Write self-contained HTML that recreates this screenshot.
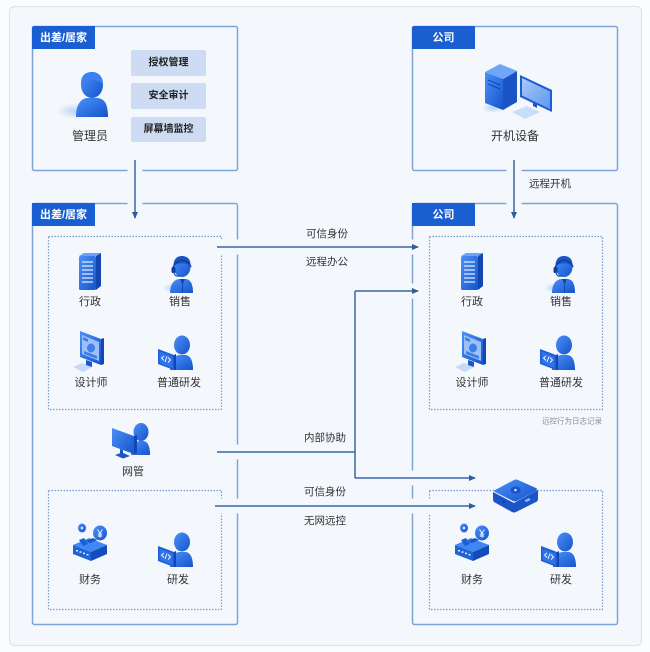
<!DOCTYPE html>
<html><head><meta charset="utf-8">
<style>
html,body{margin:0;padding:0;background:#fbfcfe;}
svg{display:block;}
text{font-family:"Liberation Sans","Noto Sans CJK SC",sans-serif;}
.lb{font-size:11px;fill:#333;text-anchor:middle;dominant-baseline:central;}
.ln{font-size:10.5px;fill:#333;text-anchor:middle;dominant-baseline:central;}
.bt{font-size:10px;font-weight:bold;fill:#222;text-anchor:middle;dominant-baseline:central;}
.tb{font-size:11px;font-weight:bold;fill:#fff;text-anchor:middle;dominant-baseline:central;}
</style></head><body>
<svg width="650" height="652" viewBox="0 0 650 652" xmlns="http://www.w3.org/2000/svg">
<defs>
<linearGradient id="gB" x1="0" y1="0" x2="1" y2="1">
<stop offset="0" stop-color="#4b91f8"/><stop offset="1" stop-color="#1553cc"/></linearGradient>
<linearGradient id="gS" x1="0" y1="0" x2="1" y2="1">
<stop offset="0" stop-color="#a9c9f9"/><stop offset="1" stop-color="#5f97ee"/></linearGradient>
<radialGradient id="gGlow" cx="0.5" cy="0.5" r="0.5">
<stop offset="0" stop-color="#b9d2f8"/><stop offset="1" stop-color="#b9d2f8" stop-opacity="0"/></radialGradient>
<marker id="ar" viewBox="0 0 8 8" refX="7" refY="4" markerWidth="7" markerHeight="7" markerUnits="userSpaceOnUse" orient="auto">
<path d="M0,0.5 L8,4 L0,7.5 Z" fill="#2f5c9c"/></marker>

<g id="doc">
<polygon points="17,3 22,0 22,33 17,37" fill="#1446b3"/>
<rect x="0" y="3" width="17" height="34" rx="1.5" fill="url(#gB)"/>
<polygon points="0,3 5,0 22,0 17,3" fill="#6aa3f7"/>
<g stroke="#dbe8fd" stroke-width="1.3">
<line x1="3" x2="14" y1="9" y2="9"/><line x1="3" x2="14" y1="13" y2="13"/>
<line x1="3" x2="14" y1="17" y2="17"/><line x1="3" x2="14" y1="21" y2="21"/>
<line x1="3" x2="14" y1="25" y2="25"/><line x1="3" x2="14" y1="29" y2="29"/></g>
</g>

<g id="sales">
<ellipse cx="6" cy="33" rx="11" ry="5" fill="url(#gGlow)"/>
<path d="M3,38 C3,28 8,24 13,24 L18,24 C23,24 26,28 26,38 Z" fill="url(#gB)"/>
<path d="M13,24 L15.5,30 L18,24 Z" fill="#1247b0"/>
<line x1="15.5" y1="30" x2="15.5" y2="38" stroke="#1247b0" stroke-width="1"/>
<ellipse cx="15" cy="12" rx="8.5" ry="10" fill="url(#gB)"/>
<path d="M6.5,11 C6.5,3 11,1 15,1 C20,1 24,4 23.5,11 C20,8 12,7 6.5,11 Z" fill="#1a55c6"/>
<path d="M6,13 A9.5,10.5 0 0 1 24,12" stroke="#0f3ea0" stroke-width="1.4" fill="none"/>
<rect x="4.5" y="12" width="4" height="6" rx="1.5" fill="#0f3ea0"/>
<path d="M7,18 Q8,22 13,21" stroke="#0f3ea0" stroke-width="1" fill="none"/>
</g>

<g id="designer">
<polygon points="0,36 9,32 19,36 10,41" fill="#c6daf8"/>
<polygon points="13,29 19,31 19,36 13,34" fill="#1a56c9"/>
<polygon points="28,8 31,7 31,33 28,34" fill="#1446b3"/>
<polygon points="7,0 28,8 28,34 7,26" fill="url(#gB)"/>
<polygon points="9,4 26,11 26,30 9,23" fill="#9cc0f7"/>
<ellipse cx="18" cy="17" rx="4" ry="4.5" fill="#3f7fea"/>
<polygon points="11,20 24,25 24,28 11,23" fill="#3f7fea"/>
<polygon points="10,6 15,8 15,11 10,9" fill="#3f7fea"/>
</g>

<g id="dev">
<ellipse cx="24" cy="10" rx="8" ry="9.5" fill="url(#gB)"/>
<path d="M12,35 C12,24 17,20 22,20 L27,20 C32,20 35,25 35,35 Z" fill="url(#gB)"/>
<polygon points="16,20 18,19 18,35 16,35" fill="#1446b3"/>
<polygon points="0,14 16,20 16,35 0,29" fill="#1d5ed8"/>
<polygon points="1.5,16.5 14.5,21.5 14.5,33 1.5,28" fill="#2e73e8"/>
<path d="M6,21 L3.5,23 L6,25.5 M10,22.5 L12.5,25 L10,27.5 M9,21.5 L7,27" stroke="#fff" stroke-width="0.9" fill="none"/>
</g>

<g id="finance">
<ellipse cx="9" cy="5" rx="4" ry="4.5" fill="url(#gB)"/>
<circle cx="9" cy="5" r="1.3" fill="#dbe8fd"/>
<ellipse cx="27" cy="10" rx="7" ry="7.5" fill="url(#gB)"/>
<path d="M24.5,6.5 L27,10 L29.5,6.5 M27,10 V14.5 M24.8,11 H29.2 M24.8,13 H29.2" stroke="#fff" stroke-width="0.9" fill="none"/>
<polygon points="0,22 16,15 34,22 18,29" fill="#3f88f4"/>
<polygon points="0,22 18,29 18,38 0,31" fill="#1f63d8"/>
<polygon points="18,29 34,22 34,31 18,38" fill="#144dbb"/>
<polygon points="13,18 20,15 24,17 17,20" fill="#1a55c6"/>
<polygon points="6,17 11,15 15,21 10,23" fill="#1d5ed8"/>
<g fill="#e1ecfd"><rect x="3" y="27" width="2" height="1.5"/><rect x="6.5" y="28.3" width="2" height="1.5"/><rect x="10" y="29.6" width="2" height="1.5"/><rect x="13.5" y="30.9" width="2" height="1.5"/></g>
</g>
</defs>

<!-- outer container -->
<rect x="9.5" y="6.5" width="632" height="639" rx="5" fill="#f4f8fd" stroke="#dde4ec" stroke-width="1.2"/>

<!-- boxes -->
<g fill="none" stroke="#7fa3d5" stroke-width="1.5">
<rect x="32.5" y="26.5" width="205" height="144" rx="2"/>
<rect x="32.5" y="203.5" width="205" height="421" rx="2"/>
<rect x="412.5" y="26.5" width="205" height="144" rx="2"/>
<rect x="412.5" y="203.5" width="205" height="421" rx="2"/>
</g>
<g fill="#1a5fd2">
<path d="M32,28 Q32,26 34,26 L95,26 L95,49 L32,49 Z"/>
<path d="M32,203 L95,203 L95,226 L32,226 Z"/>
<path d="M412,28 Q412,26 414,26 L475,26 L475,49 L412,49 Z"/>
<path d="M412,203 L475,203 L475,226 L412,226 Z"/>
</g>
<text class="tb" x="63.5" y="38">出差/居家</text>
<text class="tb" x="63.5" y="215">出差/居家</text>
<text class="tb" x="443.5" y="38">公司</text>
<text class="tb" x="443.5" y="215">公司</text>

<!-- buttons -->
<g fill="#cddcf3">
<rect x="131" y="50" width="75" height="26" rx="2"/>
<rect x="131" y="83" width="75" height="26" rx="2"/>
<rect x="131" y="117" width="75" height="25" rx="2"/>
</g>
<text class="bt" x="168.5" y="63">授权管理</text>
<text class="bt" x="168.5" y="96">安全审计</text>
<text class="bt" x="168.5" y="129.5">屏幕墙监控</text>

<!-- dotted boxes -->
<g fill="none" stroke="#7b9bcb" stroke-width="1.2" stroke-dasharray="1.5 1.5">
<rect x="48.5" y="236.5" width="173" height="173"/>
<rect x="48.5" y="490.5" width="173" height="119"/>
<rect x="429.5" y="236.5" width="173" height="173"/>
<rect x="429.5" y="490.5" width="173" height="119"/>
</g>

<!-- halos -->
<g stroke="#f4f8fd" stroke-width="15" fill="none">
<path d="M135,160 V214"/>
<path d="M514,160 V214"/>
<path d="M217,247 H414"/>
<path d="M217,452 H355"/>
<path d="M355,291 H414"/>
<path d="M355,478 H470"/>
<path d="M215,506 H470"/>
</g>

<!-- connectors -->
<g stroke="#3a66a4" stroke-width="1.5" fill="none">
<path d="M135,160 V218" marker-end="url(#ar)"/>
<path d="M514,160 V218" marker-end="url(#ar)"/>
<path d="M217,247 H418" marker-end="url(#ar)"/>
<path d="M217,452 H355"/>
<path d="M355,291 V478"/>
<path d="M355,291 H418" marker-end="url(#ar)"/>
<path d="M355,478 H475" marker-end="url(#ar)"/>
<path d="M215,506 H475" marker-end="url(#ar)"/>
</g>

<text class="ln" x="550" y="184">远程开机</text>
<text class="ln" x="327" y="234">可信身份</text>
<text class="ln" x="327" y="262">远程办公</text>
<text class="ln" x="325" y="438">内部协助</text>
<text class="ln" x="325" y="492">可信身份</text>
<text class="ln" x="325" y="521">无网远控</text>
<text x="602" y="421" style="font-size:7.5px;fill:#8a8f96;text-anchor:end;dominant-baseline:central;">远控行为日志记录</text>

<!-- admin person -->
<ellipse cx="76" cy="111" rx="20" ry="8" fill="url(#gGlow)"/>
<path d="M76,117 C76,103 82,98 88,98 L98,98 C105,99 108,105 108,117 Z" fill="url(#gB)"/>
<ellipse cx="92" cy="85" rx="11" ry="13" fill="url(#gB)"/>
<path d="M81,84 C81,74 87,72 92,72 C98,72 103,76 103,84 C98,79 87,79 81,84 Z" fill="#3a82f2"/>
<text class="lb" x="90" y="136" style="font-size:12px">管理员</text>

<!-- computer -->
<ellipse cx="493" cy="108" rx="12" ry="5" fill="url(#gGlow)"/>
<polygon points="485,72 503,79 503,110 485,103" fill="url(#gB)"/>
<polygon points="503,79 517,71 517,102 503,110" fill="#1a54c4"/>
<polygon points="485,72 500,64 517,71 503,79" fill="#6ea6f8"/>
<g stroke="#1446b3" stroke-width="1"><line x1="488" y1="80" x2="500" y2="85"/><line x1="488" y1="84" x2="500" y2="89"/></g>
<polygon points="512,112 527,106 540,112 525,119" fill="#c9dcf9"/>
<polygon points="533,98 537,100 537,108 533,106" fill="#1a56c9"/>
<polygon points="520,75 552,90 552,112 520,97" fill="#1d5dd6"/>
<polygon points="522,78 550,91.5 550,109 522,95.5" fill="url(#gS)"/>
<text class="lb" x="515" y="136" style="font-size:12px">开机设备</text>

<!-- left upper icons -->
<use href="#doc" x="79" y="253"/>
<use href="#sales" x="167" y="255"/>
<use href="#designer" x="73" y="331"/>
<use href="#dev" x="158" y="335"/>
<text class="lb" x="90" y="302">行政</text>
<text class="lb" x="180" y="302">销售</text>
<text class="lb" x="91" y="383">设计师</text>
<text class="lb" x="179" y="383">普通研发</text>

<!-- netadmin -->
<g transform="translate(112,423)">
<ellipse cx="29" cy="9" rx="7.5" ry="9" fill="url(#gB)"/>
<path d="M19,32 C19,22 24,18 28,18 L31,18 C35,18 38,22 38,32 Z" fill="url(#gB)"/>
<polygon points="22,13 25,12 25,30 22,31" fill="#1446b3"/>
<polygon points="0,5 22,13 22,31 0,23" fill="url(#gB)"/>
<polygon points="8,26 11,27 11,32 8,31" fill="#1a56c9"/>
<polygon points="3,32 10,29.5 18,33 11,35.5" fill="#1a56c9"/>
</g>
<text class="lb" x="133" y="472">网管</text>

<!-- left lower -->
<use href="#finance" x="73" y="523"/>
<use href="#dev" x="158" y="532"/>
<text class="lb" x="90" y="580">财务</text>
<text class="lb" x="178" y="580">研发</text>

<!-- right upper icons -->
<use href="#doc" x="461" y="253"/>
<use href="#sales" x="549" y="255"/>
<use href="#designer" x="455" y="331"/>
<use href="#dev" x="540" y="335"/>
<text class="lb" x="472" y="302">行政</text>
<text class="lb" x="561" y="302">销售</text>
<text class="lb" x="472" y="383">设计师</text>
<text class="lb" x="561" y="383">普通研发</text>

<!-- device hub -->
<g transform="translate(492,477)">
<path d="M1,15 L22,26 L46,13 L46,22 Q46,24 44,25 L24,35 Q22,36 20,35 L2,25 Q1,24 1,22 Z" fill="#1a54c6"/>
<path d="M3,13 L22,3 Q24,2 26,3 L44,11 Q46,12 44,14 L25,24 Q23,25 21,24 L3,15 Q1,14 3,13 Z" fill="url(#gB)"/>
<ellipse cx="23.5" cy="13" rx="5" ry="3.5" fill="#1a52c5"/>
<circle cx="23.5" cy="13" r="1.3" fill="#cfe0fb"/>
<rect x="33" y="22" width="5" height="2.5" fill="#8fb7f5" transform="rotate(-25 35 23)"/>
<circle cx="12" cy="25" r="1.2" fill="#0e3c9c"/>
</g>

<!-- right lower -->
<use href="#finance" x="455" y="523"/>
<use href="#dev" x="541" y="532"/>
<text class="lb" x="472" y="580">财务</text>
<text class="lb" x="561" y="580">研发</text>
</svg>
</body></html>
